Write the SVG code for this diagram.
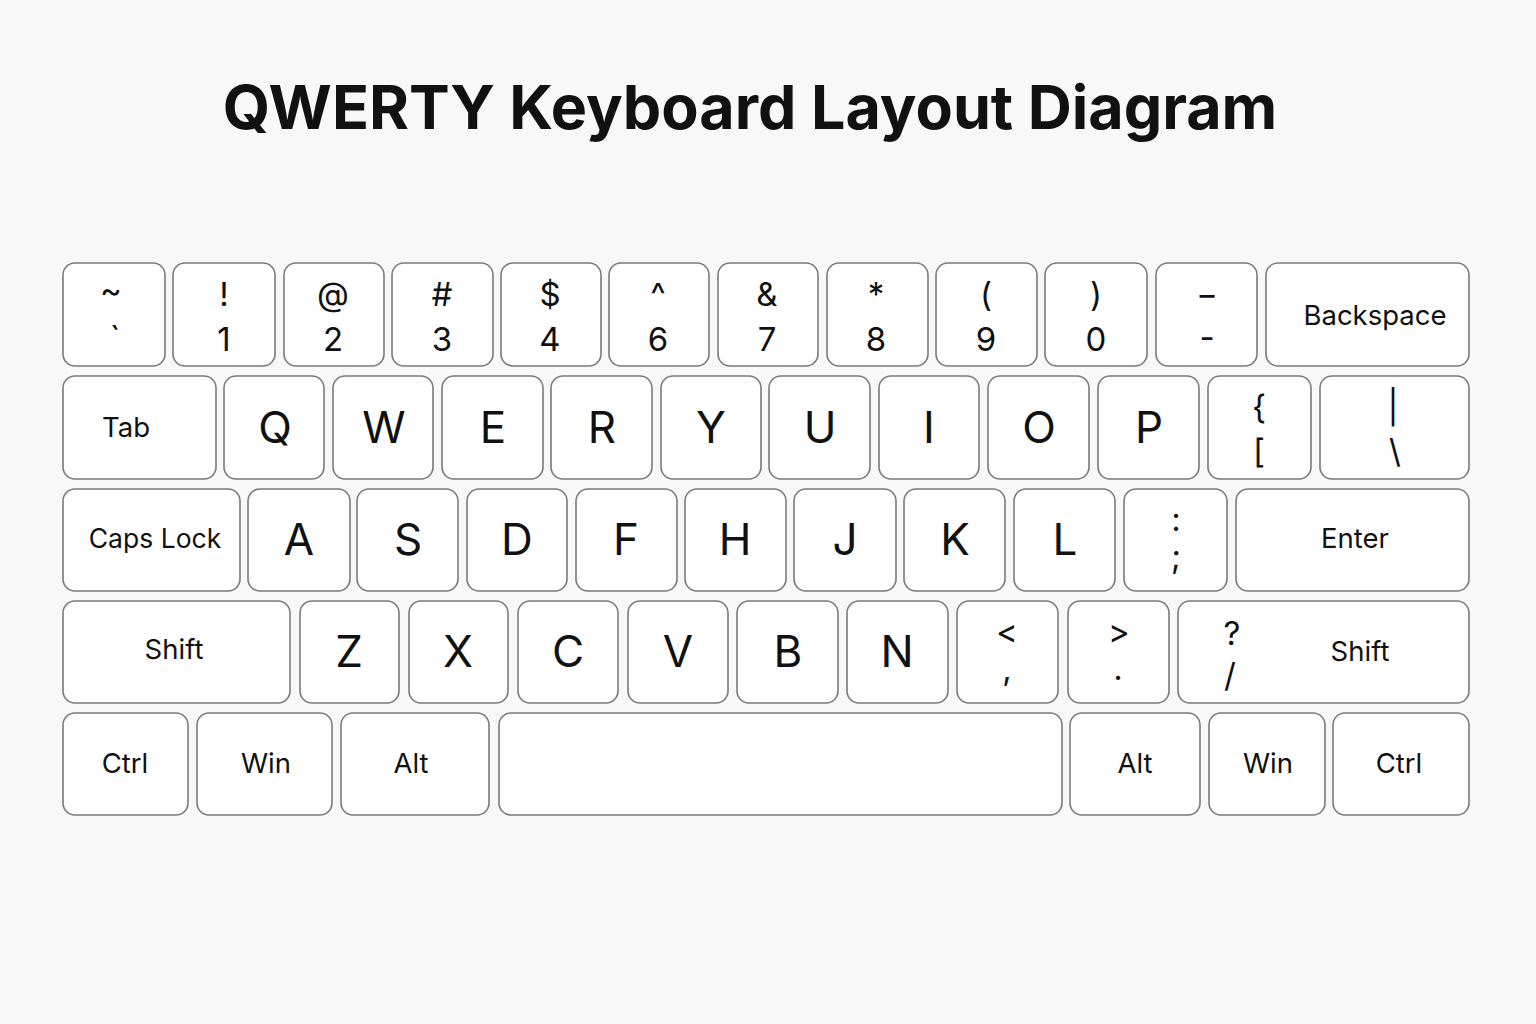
<svg xmlns="http://www.w3.org/2000/svg" width="1536" height="1024" viewBox="0 0 1536 1024">
<style>
.k{fill:#ffffff;stroke:#7a7a7a;stroke-width:1.6}
text{font-family:Inter,"Liberation Sans",Arial,sans-serif;fill:#111;text-anchor:middle}
.t{font-size:61px;font-weight:bold}
.L{font-size:44px}
.n{font-size:33px}
.m{font-size:27.5px}
</style>
<rect width="1536" height="1024" fill="#f8f8f8"/>
<text class="t" x="750" y="129">QWERTY Keyboard Layout Diagram</text>
<g id="row1">
<g id="k-tilde"><rect class="k" x="63" y="263" width="102" height="103" rx="12"/><text class="n" x="111" y="302">~</text><text class="n" x="115" y="350">`</text></g>
<g id="k-1"><rect class="k" x="173" y="263" width="102" height="103" rx="12"/><text class="n" x="224" y="306">!</text><text class="n" x="224" y="351">1</text></g>
<g id="k-2"><rect class="k" x="284" y="263" width="100" height="103" rx="12"/><text class="n" x="333" y="306">@</text><text class="n" x="333" y="351">2</text></g>
<g id="k-3"><rect class="k" x="392" y="263" width="101" height="103" rx="12"/><text class="n" x="442" y="306">#</text><text class="n" x="442" y="351">3</text></g>
<g id="k-4"><rect class="k" x="501" y="263" width="100" height="103" rx="12"/><text class="n" x="550" y="306">$</text><text class="n" x="550" y="351">4</text></g>
<g id="k-6"><rect class="k" x="609" y="263" width="100" height="103" rx="12"/><text class="n" x="658" y="306">^</text><text class="n" x="658" y="351">6</text></g>
<g id="k-7"><rect class="k" x="718" y="263" width="100" height="103" rx="12"/><text class="n" x="767" y="306">&amp;</text><text class="n" x="767" y="351">7</text></g>
<g id="k-8"><rect class="k" x="827" y="263" width="101" height="103" rx="12"/><text class="n" x="876" y="306">*</text><text class="n" x="876" y="351">8</text></g>
<g id="k-9"><rect class="k" x="936" y="263" width="101" height="103" rx="12"/><text class="n" x="986" y="306">(</text><text class="n" x="986" y="351">9</text></g>
<g id="k-0"><rect class="k" x="1045" y="263" width="102" height="103" rx="12"/><text class="n" x="1096" y="306">)</text><text class="n" x="1096" y="351">0</text></g>
<g id="k-minus"><rect class="k" x="1156" y="263" width="101" height="103" rx="12"/><text class="n" x="1207" y="295">_</text><text class="n" x="1207" y="349">-</text></g>
<g id="k-backspace"><rect class="k" x="1266" y="263" width="203" height="103" rx="12"/><text class="m" x="1375" y="325">Backspace</text></g>
</g>
<g id="row2">
<g id="k-tab"><rect class="k" x="63" y="376" width="153" height="103" rx="12"/><text class="m" x="126" y="437">Tab</text></g>
<g id="k-q"><rect class="k" x="224" y="376" width="100" height="103" rx="12"/><text class="L" x="275" y="443">Q</text></g>
<g id="k-w"><rect class="k" x="333" y="376" width="100" height="103" rx="12"/><text class="L" x="384" y="443">W</text></g>
<g id="k-e"><rect class="k" x="442" y="376" width="101" height="103" rx="12"/><text class="L" x="493" y="443">E</text></g>
<g id="k-r"><rect class="k" x="551" y="376" width="101" height="103" rx="12"/><text class="L" x="602" y="443">R</text></g>
<g id="k-y"><rect class="k" x="661" y="376" width="100" height="103" rx="12"/><text class="L" x="711" y="443">Y</text></g>
<g id="k-u"><rect class="k" x="769" y="376" width="101" height="103" rx="12"/><text class="L" x="820" y="443">U</text></g>
<g id="k-i"><rect class="k" x="879" y="376" width="100" height="103" rx="12"/><text class="L" x="929" y="443">I</text></g>
<g id="k-o"><rect class="k" x="988" y="376" width="101" height="103" rx="12"/><text class="L" x="1039" y="443">O</text></g>
<g id="k-p"><rect class="k" x="1098" y="376" width="101" height="103" rx="12"/><text class="L" x="1149" y="443">P</text></g>
<g id="k-bracket"><rect class="k" x="1208" y="376" width="103" height="103" rx="12"/><text class="n" x="1259" y="419">{</text><text class="n" x="1259" y="463">[</text></g>
<g id="k-backslash"><rect class="k" x="1320" y="376" width="149" height="103" rx="12"/><text class="n" x="1393" y="419">|</text><text class="n" x="1395" y="463">\</text></g>
</g>
<g id="row3">
<g id="k-caps"><rect class="k" x="63" y="489" width="177" height="102" rx="12"/><text class="m" x="155" y="548" style="font-size:26.5px">Caps Lock</text></g>
<g id="k-a"><rect class="k" x="248" y="489" width="102" height="102" rx="12"/><text class="L" x="299" y="555">A</text></g>
<g id="k-s"><rect class="k" x="357" y="489" width="101" height="102" rx="12"/><text class="L" x="408" y="555">S</text></g>
<g id="k-d"><rect class="k" x="467" y="489" width="100" height="102" rx="12"/><text class="L" x="517" y="555">D</text></g>
<g id="k-f"><rect class="k" x="576" y="489" width="101" height="102" rx="12"/><text class="L" x="626" y="555">F</text></g>
<g id="k-h"><rect class="k" x="685" y="489" width="101" height="102" rx="12"/><text class="L" x="735" y="555">H</text></g>
<g id="k-j"><rect class="k" x="794" y="489" width="102" height="102" rx="12"/><text class="L" x="845" y="555">J</text></g>
<g id="k-k"><rect class="k" x="904" y="489" width="101" height="102" rx="12"/><text class="L" x="955" y="555">K</text></g>
<g id="k-l"><rect class="k" x="1014" y="489" width="101" height="102" rx="12"/><text class="L" x="1065" y="555">L</text></g>
<g id="k-semicolon"><rect class="k" x="1124" y="489" width="103" height="102" rx="12"/><text class="n" x="1176" y="531">:</text><text class="n" x="1176" y="568">;</text></g>
<g id="k-enter"><rect class="k" x="1236" y="489" width="233" height="102" rx="12"/><text class="m" x="1355" y="548">Enter</text></g>
</g>
<g id="row4">
<g id="k-lshift"><rect class="k" x="63" y="601" width="227" height="102" rx="12"/><text class="m" x="174" y="659">Shift</text></g>
<g id="k-z"><rect class="k" x="300" y="601" width="99" height="102" rx="12"/><text class="L" x="349" y="667">Z</text></g>
<g id="k-x"><rect class="k" x="409" y="601" width="99" height="102" rx="12"/><text class="L" x="458" y="667">X</text></g>
<g id="k-c"><rect class="k" x="518" y="601" width="100" height="102" rx="12"/><text class="L" x="568" y="667">C</text></g>
<g id="k-v"><rect class="k" x="628" y="601" width="100" height="102" rx="12"/><text class="L" x="678" y="667">V</text></g>
<g id="k-b"><rect class="k" x="737" y="601" width="101" height="102" rx="12"/><text class="L" x="788" y="667">B</text></g>
<g id="k-n"><rect class="k" x="847" y="601" width="101" height="102" rx="12"/><text class="L" x="897" y="667">N</text></g>
<g id="k-comma"><rect class="k" x="957" y="601" width="101" height="102" rx="12"/><text class="n" x="1007" y="643">&lt;</text><text class="n" x="1007" y="680">,</text></g>
<g id="k-period"><rect class="k" x="1068" y="601" width="101" height="102" rx="12"/><text class="n" x="1119" y="643">&gt;</text><text class="n" x="1118" y="680">.</text></g>
<g id="k-rshift"><rect class="k" x="1178" y="601" width="291" height="102" rx="12"/><text class="n" x="1232" y="645">?</text><text class="n" x="1230" y="687">/</text><text class="m" x="1360" y="661">Shift</text></g>
</g>
<g id="row5">
<g id="k-lctrl"><rect class="k" x="63" y="713" width="125" height="102" rx="12"/><text class="m" x="125" y="773">Ctrl</text></g>
<g id="k-lwin"><rect class="k" x="197" y="713" width="135" height="102" rx="12"/><text class="m" x="266" y="773">Win</text></g>
<g id="k-lalt"><rect class="k" x="341" y="713" width="148" height="102" rx="12"/><text class="m" x="411" y="773">Alt</text></g>
<g id="k-space"><rect class="k" x="499" y="713" width="563" height="102" rx="12"/></g>
<g id="k-ralt"><rect class="k" x="1070" y="713" width="130" height="102" rx="12"/><text class="m" x="1135" y="773">Alt</text></g>
<g id="k-rwin"><rect class="k" x="1209" y="713" width="116" height="102" rx="12"/><text class="m" x="1268" y="773">Win</text></g>
<g id="k-rctrl"><rect class="k" x="1333" y="713" width="136" height="102" rx="12"/><text class="m" x="1399" y="773">Ctrl</text></g>
</g>
<g id="connectors"/>
</svg>
